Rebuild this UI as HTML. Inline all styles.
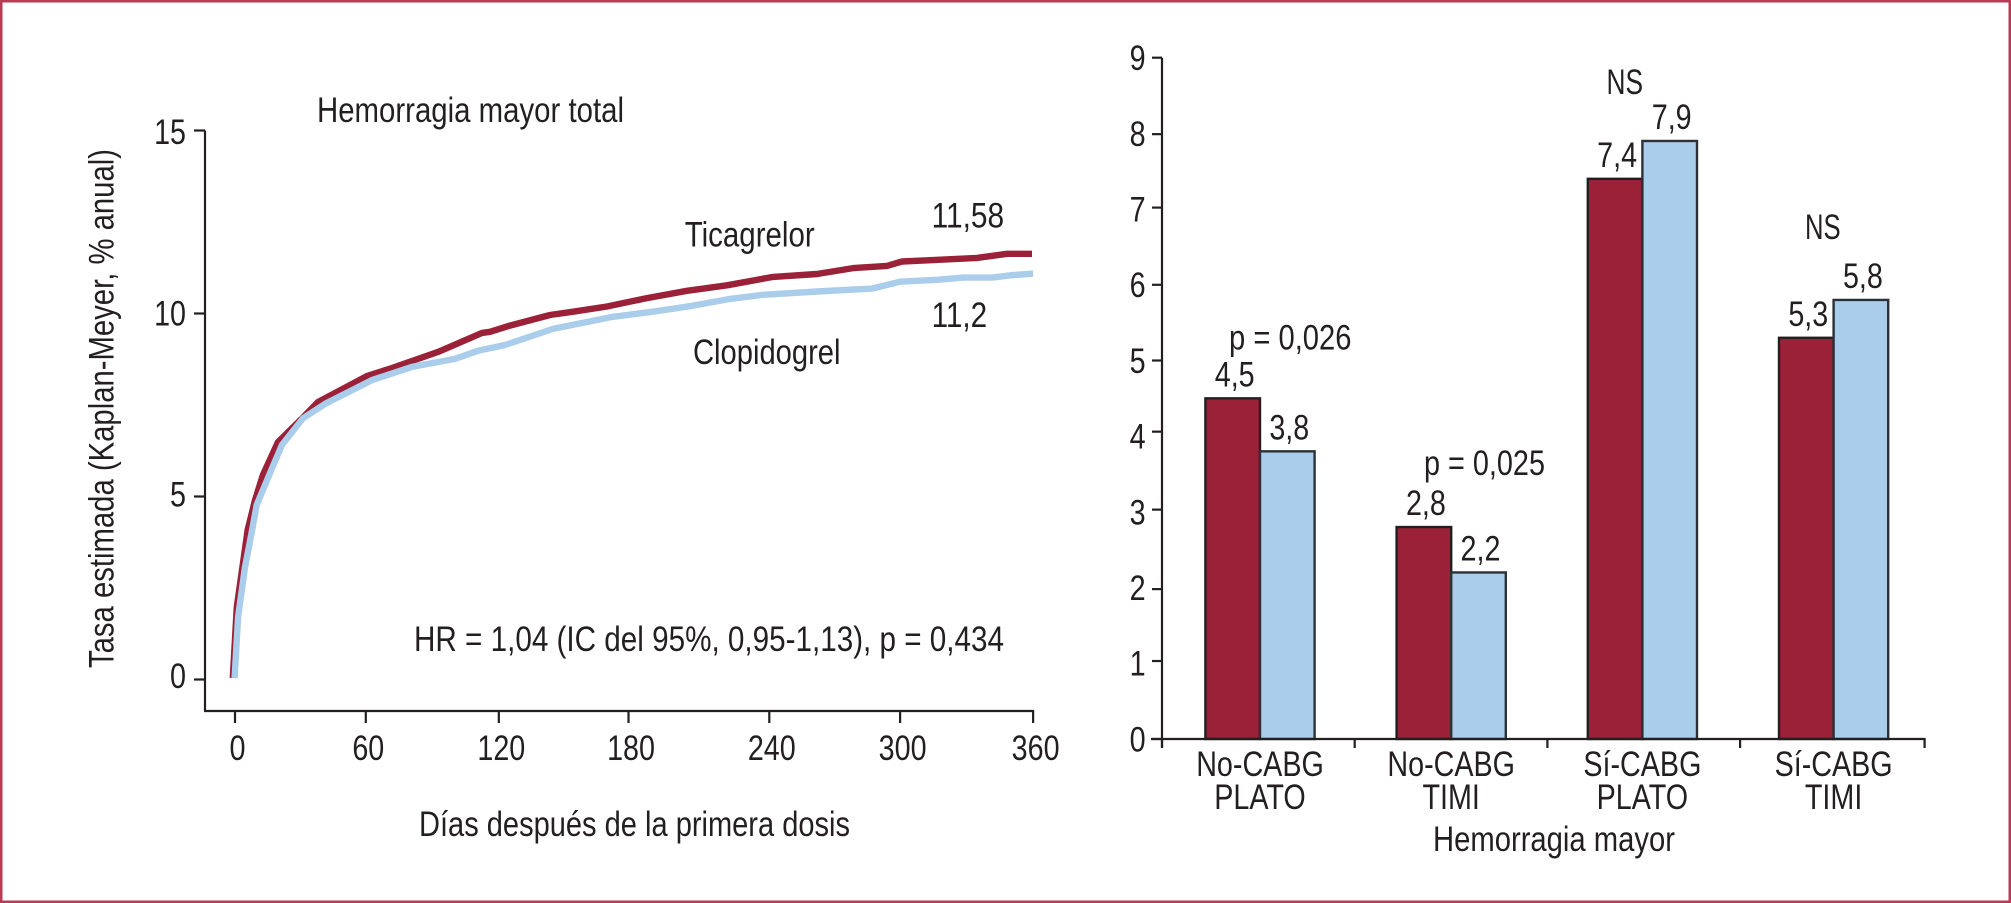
<!DOCTYPE html>
<html lang="es">
<head>
<meta charset="utf-8">
<title>Hemorragia mayor: ticagrelor frente a clopidogrel</title>
<style>
html,body{margin:0;padding:0;background:#fff;width:2011px;height:903px;overflow:hidden}
svg{display:block}
text{font-family:"Liberation Sans",sans-serif;font-size:35px;fill:#231f20}
.axis{stroke:#231f20;stroke-width:2.2;fill:none}
</style>
</head>
<body>
<svg id="figure" width="2011" height="903" viewBox="0 0 2011 903" xmlns="http://www.w3.org/2000/svg">
  <rect x="0" y="0" width="2011" height="903" fill="#ffffff"/>
  <rect x="1.2" y="1.2" width="2008.6" height="900.6" fill="none" stroke="#b93a55" stroke-width="2.6"/>

  <g id="survival-chart">
    <text x="317" y="122" textLength="307" lengthAdjust="spacingAndGlyphs">Hemorragia mayor total</text>
    <text transform="translate(113.6,668) rotate(-90)" textLength="519" lengthAdjust="spacingAndGlyphs">Tasa estimada (Kaplan-Meyer, % anual)</text>
    <text x="419" y="836" textLength="431" lengthAdjust="spacingAndGlyphs">Días después de la primera dosis</text>
    <text x="684.7" y="246.5" textLength="130" lengthAdjust="spacingAndGlyphs">Ticagrelor</text>
    <text x="931.6" y="227.5" textLength="72.5" lengthAdjust="spacingAndGlyphs">11,58</text>
    <text x="931.6" y="327" textLength="55.5" lengthAdjust="spacingAndGlyphs">11,2</text>
    <text x="693" y="364" textLength="147.5" lengthAdjust="spacingAndGlyphs">Clopidogrel</text>
    <text x="414" y="651" textLength="590" lengthAdjust="spacingAndGlyphs">HR = 1,04 (IC del 95%, 0,95-1,13), p = 0,434</text>
  </g>

  <g id="bar-chart">
    <text x="1433" y="851" textLength="242" lengthAdjust="spacingAndGlyphs">Hemorragia mayor</text>
    <text x="1229" y="349.6" textLength="122.5" lengthAdjust="spacingAndGlyphs">p = 0,026</text>
    <text x="1424" y="475" textLength="121" lengthAdjust="spacingAndGlyphs">p = 0,025</text>
    <text x="1606.5" y="94" textLength="36.5" lengthAdjust="spacingAndGlyphs">NS</text>
    <text x="1805" y="239" textLength="35.6" lengthAdjust="spacingAndGlyphs">NS</text>
  </g>
</svg>

<script>
// ---- Survival chart data (days after first dose, % per year) ----
const ticagrelorDays = [-1,0.8,3.6,5.7,9,12.6,19.4,30.7,37.4,59.5,70.8,91.6,111.4,115,124,142.1,152.5,167.8,185.8,203.9,221.9,242.7,262.5,278.8,294.1,300.9,314.8,334.7,348.2,359.5];
const ticagrelorRates = [0.04,1.98,3.18,4.08,4.9,5.59,6.49,7.16,7.58,8.29,8.51,8.95,9.47,9.5,9.67,9.96,10.05,10.19,10.42,10.62,10.77,11,11.08,11.24,11.3,11.42,11.46,11.52,11.63,11.63];
const clopidogrelDays = [-0.2,1.4,4.5,7.7,9.8,15.8,21.2,30.7,40.6,61.8,79.8,99.2,109.6,121.8,143.4,170.5,188.5,205.2,223.3,238.2,262.5,287.3,300,316.6,328.4,341.5,350.9,360];
const clopidogrelRates = [0.04,1.71,3.07,4.08,4.77,5.64,6.41,7.14,7.53,8.18,8.54,8.76,8.98,9.14,9.58,9.91,10.05,10.2,10.4,10.51,10.6,10.68,10.87,10.92,10.98,10.98,11.05,11.09];
const survivalYTicks = [0,5,10,15];
const survivalXTicks = [0,59,119,177.5,241,300,360];
const survivalXLabels = ["0","60","120","180","240","300","360"];

// ---- Bar chart data ----
const bleedCategories = [["No-CABG","PLATO"],["No-CABG","TIMI"],["Sí-CABG","PLATO"],["Sí-CABG","TIMI"]];
const ticagrelorBars = [4.5,2.8,7.4,5.3];
const clopidogrelBars = [3.8,2.2,7.9,5.8];
const ticagrelorBarLabels = ["4,5","2,8","7,4","5,3"];
const clopidogrelBarLabels = ["3,8","2,2","7,9","5,8"];
const barYLabels = [0,1,2,3,4,5,6,7,8,9];
const barYTicks = [0,1.03,1.98,3.03,4.06,5,6,7.02,7.99,9];

const NS = 'http://www.w3.org/2000/svg';
const survivalChart = document.getElementById('survival-chart');
const barChart = document.getElementById('bar-chart');
const BAR_AXIS_END = 1924.6;

// Axis functions
function xS(d){ return 235 + d * 2.217; }
function yS(v){ return 679.5 - v * 36.6; }
function yLabelS(v){ return 688 - v * 36.27; }
function yB(v){ return 739 - v * 75.7; }
function groupCentre(i){ return 1260 + i * 191.2; }
function groupTick(i){ return 1162 + i * 192.7; }

function make(tag, parent, attrs){
  const el = document.createElementNS(NS, tag);
  for (const k in attrs) el.setAttribute(k, attrs[k]);
  parent.appendChild(el);
  return el;
}
function condense(el){
  const w = el.getComputedTextLength();
  el.setAttribute('textLength', (w * 0.82).toFixed(1));
  el.setAttribute('lengthAdjust', 'spacingAndGlyphs');
}
function pathFrom(xs, ys){
  return xs.map((d, i) => (i ? 'L' : 'M') + xS(d).toFixed(1) + ' ' + yS(ys[i]).toFixed(1)).join(' ');
}

// ---- Survival axes ----
const survYAxis = make('line', survivalChart, {x1:205, x2:205, y1:yS(15), y2:711, class:'axis'});


const survXAxis = make('line', survivalChart, {x1:204, x2:xS(360)+1, y1:711, y2:711, class:'axis'});



survivalYTicks.forEach(v => {
  const t = make('line', survivalChart, {x1:194, x2:205, y1:yS(v), y2:yS(v), class:'axis'});
  
  
  const l = make('text', survivalChart, {x:186, y:yLabelS(v), 'text-anchor':'end'});
  l.textContent = String(v);
  
  
  condense(l);
});
survivalXTicks.forEach((d, i) => {
  const t = make('line', survivalChart, {x1:xS(d), x2:xS(d), y1:711, y2:723, class:'axis'});
  
  
  const l = make('text', survivalChart, {x:xS(d)+2.5, y:760, 'text-anchor':'middle'});
  l.textContent = survivalXLabels[i];
  
  
  condense(l);
});

// ---- Survival series ----
const ticaLine = make('path', survivalChart, {d:pathFrom(ticagrelorDays, ticagrelorRates), fill:'none', stroke:'#9a2138', 'stroke-width':6.4, 'stroke-linejoin':'round'});


const clopLine = make('path', survivalChart, {d:pathFrom(clopidogrelDays, clopidogrelRates), fill:'none', stroke:'#abcdec', 'stroke-width':6.4, 'stroke-linejoin':'round'});



// ---- Bars (drawn first so axis sits on top) ----
const BAR_W = 54.6;
bleedCategories.forEach((cat, i) => {
  const c = groupCentre(i);
  const redBar = make('rect', barChart, {x:c-BAR_W, y:yB(ticagrelorBars[i]), width:BAR_W, height:yB(0)-yB(ticagrelorBars[i]), fill:'#9a2138', stroke:'#231f20', 'stroke-width':2.4});
  
  
  const blueBar = make('rect', barChart, {x:c, y:yB(clopidogrelBars[i]), width:BAR_W, height:yB(0)-yB(clopidogrelBars[i]), fill:'#abcdec', stroke:'#2b3136', 'stroke-width':2.4});
  
  

  const redLabel = make('text', barChart, {x:c-BAR_W/2+2, y:yB(ticagrelorBars[i])-12, 'text-anchor':'middle'});
  redLabel.textContent = ticagrelorBarLabels[i];
  
  
  condense(redLabel);
  const blueLabel = make('text', barChart, {x:c+BAR_W/2+2, y:yB(clopidogrelBars[i])-12, 'text-anchor':'middle'});
  blueLabel.textContent = clopidogrelBarLabels[i];
  
  
  condense(blueLabel);

  const line1 = make('text', barChart, {x:c, y:776, 'text-anchor':'middle'});
  line1.textContent = cat[0];
  
  
  condense(line1);
  const line2 = make('text', barChart, {x:c, y:809, 'text-anchor':'middle'});
  line2.textContent = cat[1];
  
  
  condense(line2);
});

// ---- Bar axes ----
const barYAxis = make('line', barChart, {x1:1162, x2:1162, y1:yB(9), y2:yB(0)+9, class:'axis'});


const barXAxis = make('line', barChart, {x1:1151, x2:BAR_AXIS_END+1, y1:yB(0), y2:yB(0), class:'axis'});



barYLabels.forEach((v, i) => {
  const t = make('line', barChart, {x1:1152, x2:1162, y1:yB(barYTicks[i]), y2:yB(barYTicks[i]), class:'axis'});
  
  
  const l = make('text', barChart, {x:1145.6, y:yB(v)+12.4, 'text-anchor':'end'});
  l.textContent = String(v);
  
  
  condense(l);
});
for (let i = 0; i <= bleedCategories.length; i++) {
  const tickX = i < bleedCategories.length ? groupTick(i) : BAR_AXIS_END;
  const t = make('line', barChart, {x1:tickX, x2:tickX, y1:yB(0), y2:yB(0)+9, class:'axis'});
  
  
}
</script>
</body>
</html>
